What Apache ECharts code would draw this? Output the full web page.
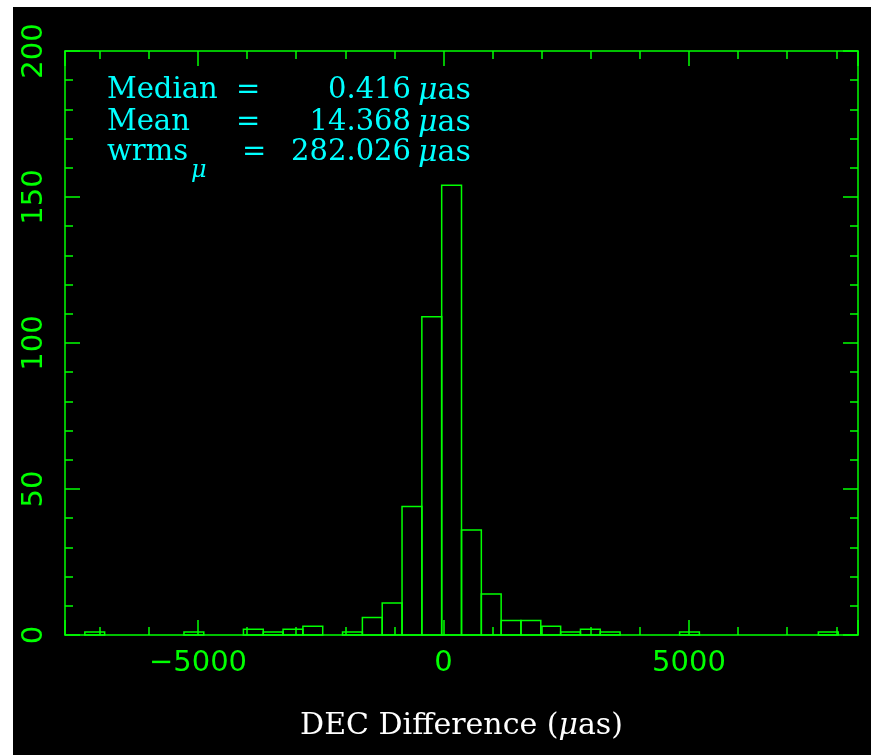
<!DOCTYPE html>
<html>
<head>
<meta charset="utf-8">
<script src="https://cdn.jsdelivr.net/npm/echarts@6/dist/echarts.min.js"></script>
<style>
  html, body { margin: 0; padding: 0; background: #ffffff; width: 871px; height: 755px; overflow: hidden; }
  #chart { position: absolute; left: 13px; top: 7px; width: 858px; height: 748px; background: #000000; }
</style>
</head>
<body>
<div id="chart"></div>
<script>
// ---- data ----
const xMin = -7709;
const xMax = 8442;
const binStart = -7709;
const binWidth = 403.775;
const counts = [0, 1, 0, 0, 0, 0, 1, 0, 0, 2,
                1, 2, 3, 0, 1, 6, 11, 44, 109, 154,
                36, 14, 5, 5, 3, 1, 2, 1, 0, 0,
                0, 1, 0, 0, 0, 0, 0, 0, 1, 0];
const yMin = 0, yMax = 200, yInterval = 50;
const statLabels = ['Median', 'Mean', 'wrms'];
const statValues = ['0.416', '14.368', '282.026'];
const xAxisTitle = 'DEC Difference (';
const unit = 'as';

const GREEN = '#00ff00';
const CYAN = '#00ffff';

const histData = [];
counts.forEach((c, i) => {
  if (c > 0) histData.push([binStart + i * binWidth, binStart + (i + 1) * binWidth, c]);
});

const chart = echarts.init(document.getElementById('chart'), null, { renderer: 'canvas' });

function tickCommon() {
  return {
    axisLine: { show: true, onZero: false, lineStyle: { color: GREEN, width: 1.5 } },
    axisTick: { show: true, inside: true, length: 15, lineStyle: { color: GREEN, width: 1.5 } },
    minorTick: { show: true, splitNumber: 5, length: 8, lineStyle: { color: GREEN, width: 1.5 } },
    splitLine: { show: false },
    minorSplitLine: { show: false }
  };
}

function fmtNum(v) { return String(v).replace('-', '\u2212'); }

const statTexts = [];
const baseY = [87, 119, 149];
const F = '29px "DejaVu Serif"';
statLabels.forEach((lab, i) => {
  statTexts.push({
    type: 'text', left: 94, top: baseY[i] - 18,
    style: { text: lab, fill: CYAN, font: F }
  });
  statTexts.push({
    type: 'text', left: i === 2 ? 229 : 223, top: baseY[i] - 18,
    style: { text: '=', fill: CYAN, font: F }
  });
  statTexts.push({
    type: 'text', right: 858 - 398, top: baseY[i] - 18,
    style: { text: statValues[i], fill: CYAN, font: F }
  });
  statTexts.push({
    type: 'text', left: 405, top: baseY[i] - 18,
    style: {
      text: '{i|\u03bc}{a|' + unit + '}',
      fill: CYAN, font: F,
      rich: {
        i: { fontStyle: 'italic', fontFamily: 'DejaVu Serif', fontSize: 30, fill: CYAN, color: CYAN },
        a: { fontFamily: 'DejaVu Serif', fontSize: 30, fill: CYAN, color: CYAN }
      }
    }
  });
});
statTexts.push({
  type: 'text', left: 178, top: 152,
  style: { text: '\u03bc', fill: CYAN, font: 'italic 24px "DejaVu Serif"' }
});

const option = {
  backgroundColor: '#000000',
  animation: false,
  grid: { left: 52, top: 44, width: 793, height: 584, containLabel: false },
  xAxis: [
    Object.assign({
      type: 'value', position: 'bottom', min: xMin, max: xMax, splitNumber: 3,
      axisLabel: {
        show: true, color: GREEN, fontSize: 29, fontFamily: 'DejaVu Sans', margin: 14,
        showMinLabel: false, showMaxLabel: false,
        formatter: function (v) { return (v % 5000 === 0) ? fmtNum(v) : ''; }
      },
      name: xAxisTitle + '{i|\u03bc}as)',
      nameLocation: 'middle', nameGap: 76,
      nameTextStyle: {
        color: '#ffffff', fontSize: 30, fontFamily: 'DejaVu Serif',
        rich: { i: { fontStyle: 'italic', color: '#ffffff', fontSize: 30, fontFamily: 'DejaVu Serif' } }
      }
    }, tickCommon()),
    Object.assign({
      type: 'value', position: 'top', min: xMin, max: xMax, splitNumber: 3,
      axisLabel: { show: false }
    }, tickCommon())
  ],
  yAxis: [
    Object.assign({
      type: 'value', position: 'left', min: yMin, max: yMax, interval: yInterval,
      axisLabel: { show: true, color: GREEN, fontSize: 29, fontFamily: 'DejaVu Sans', rotate: 90, margin: 16 }
    }, tickCommon()),
    Object.assign({
      type: 'value', position: 'right', min: yMin, max: yMax, interval: yInterval,
      axisLabel: { show: false }
    }, tickCommon())
  ],
  graphic: statTexts,
  series: [{
    type: 'custom',
    xAxisIndex: 0, yAxisIndex: 0,
    data: histData,
    encode: { x: [0, 1], y: 2 },
    renderItem: function (params, api) {
      const p0 = api.coord([api.value(0), api.value(2)]);
      const p1 = api.coord([api.value(1), 0]);
      return {
        type: 'rect',
        shape: { x: p0[0], y: p0[1], width: p1[0] - p0[0], height: p1[1] - p0[1] },
        style: { fill: 'none', stroke: GREEN, lineWidth: 1.5 }
      };
    }
  }]
};
chart.setOption(option);
</script>
</body>
</html>
